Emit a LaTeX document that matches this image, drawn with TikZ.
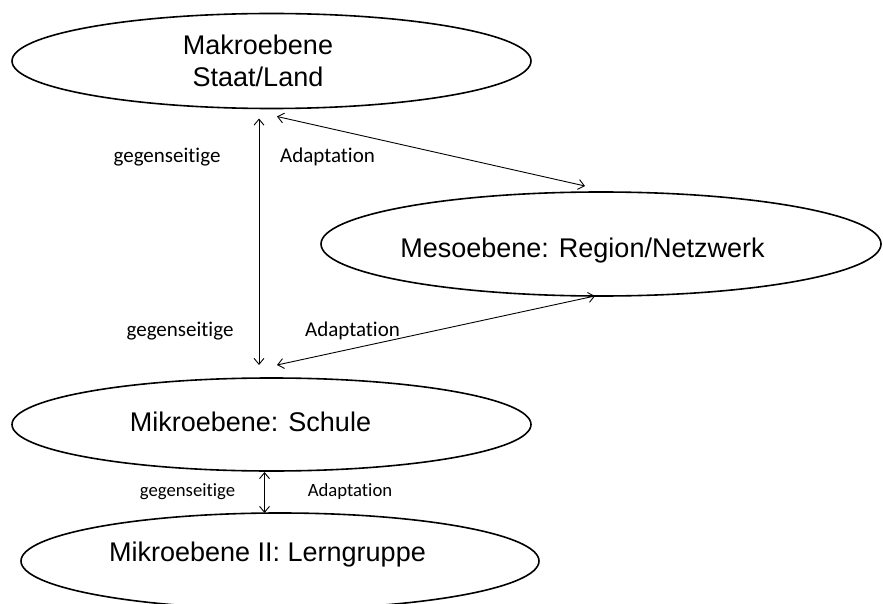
\documentclass[tikz,border=0pt]{standalone}
\usepackage{fontspec}
\setmainfont{Liberation Sans}
\newfontfamily\labelfont[Ligatures=NoCommon]{Carlito}
\usetikzlibrary{arrows.meta,shapes.geometric}

\begin{document}
\begin{tikzpicture}[x=1pt,y=-1pt,
  level/.style={draw, ellipse, line width=1.6pt, inner sep=0pt, outer sep=0pt},
  leveltext/.style={inner sep=0pt, font=\fontsize{27}{31.7}\selectfont},
  edgelabel/.style={inner sep=0pt, anchor=base, font=\labelfont\fontsize{21}{25}\selectfont},
  smalllabel/.style={edgelabel, font=\labelfont\fontsize{18.7}{22}\selectfont},
  mutual/.style={{Straight Barb[length=6pt,width=10pt]}-{Straight Barb[length=6pt,width=10pt]}, line width=0.9pt}]
\useasboundingbox (0,0) rectangle (883,604);

% the four levels
\node[level, minimum width=519pt, minimum height=95pt]  (makro)  at (271.5,61)  {};
\node[level, minimum width=560pt, minimum height=104pt] (meso)   at (601,244)   {};
\node[level, minimum width=519pt, minimum height=93pt]  (schule) at (271.5,424.5) {};
\node[level, minimum width=518pt, minimum height=96pt]  (lern)   at (280,561)   {};

% level captions
\node[leveltext, align=center] (makrotext) at (258,61) {Makroebene\\Staat/Land};
\node[leveltext, anchor=base] (mesotext)   at (582.5,257.3) {Mesoebene: Region/Netzwerk};
\node[leveltext, anchor=base] (schuletext) at (250.5,431.7) {Mikroebene: Schule};
\node[leveltext, anchor=base] (lerntext)   at (267.5,561.7) {Mikroebene II: Lerngruppe};

% mutual adaptation between the levels
\draw[mutual] ([xshift=-12.5pt,yshift=-10pt]makro.south) -- ([xshift=-12.5pt,yshift=13pt]schule.north);
\draw[mutual] ([xshift=5.5pt,yshift=-8pt]makro.south) -- ([xshift=-16pt,yshift=6pt]meso.north);
\draw[mutual] ([xshift=-6pt]meso.south) -- ([xshift=5.5pt,yshift=13pt]schule.north);
\draw[mutual] ([xshift=-7pt,yshift=-1pt]schule.south) -- ([xshift=-15.5pt]lern.north);

% arrow labels
\node[edgelabel] (g1) at (167,162.3) {gegenseitige};
\node[edgelabel] (a1) at (327.5,162.3) {Adaptation};
\node[edgelabel] (g2) at (180,336.7) {gegenseitige};
\node[edgelabel] (a2) at (352.5,336.7) {Adaptation};
\node[smalllabel] (g3) at (187.5,496) {gegenseitige};
\node[smalllabel] (a3) at (350,496) {Adaptation};
\end{tikzpicture}
\end{document}
